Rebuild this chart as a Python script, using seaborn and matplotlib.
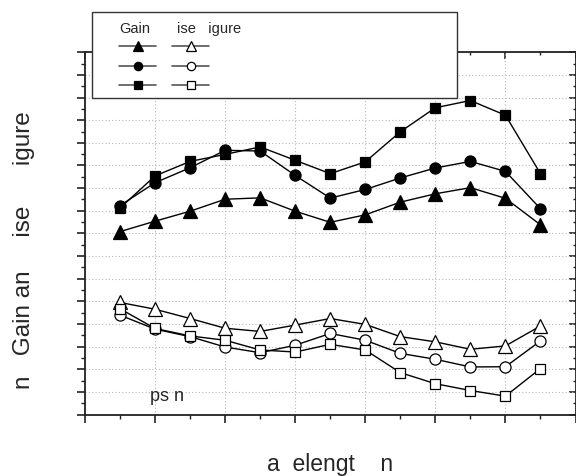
import matplotlib
matplotlib.use("Agg")
import matplotlib.pyplot as plt
from matplotlib.patches import Rectangle
from matplotlib.lines import Line2D
from matplotlib.ticker import MultipleLocator, NullFormatter
import pandas as pd
import seaborn as sns

# ---- data ----
positions = list(range(1, 14))
gain_triangle = [8.08, 8.54, 8.98, 9.51, 9.57, 8.98, 8.49, 8.82, 9.38, 9.75, 10.02, 9.55, 8.38]
gain_circle = [9.23, 10.24, 10.90, 11.67, 11.64, 10.56, 9.56, 9.94, 10.45, 10.89, 11.18, 10.74, 9.09]
gain_square = [9.12, 10.54, 11.18, 11.49, 11.82, 11.23, 10.64, 11.16, 12.49, 13.55, 13.87, 13.22, 10.64]
nf_triangle = [4.95, 4.65, 4.24, 3.81, 3.67, 3.95, 4.24, 3.98, 3.44, 3.21, 2.88, 3.03, 3.91]
nf_circle = [4.39, 3.77, 3.44, 2.98, 2.73, 3.06, 3.58, 3.28, 2.70, 2.44, 2.10, 2.11, 3.25]
nf_square = [4.67, 3.80, 3.47, 3.28, 2.85, 2.76, 3.10, 2.85, 1.85, 1.36, 1.06, 0.81, 2.03]

x_label = "a  elengt    n"
y_label = "n   Gain an     ise      igure"
legend_gain = "Gain"
legend_nf = "ise   igure"
note_text = "ps n"

sns.set_style("white")
plt.rcParams["font.family"] = ["Liberation Sans", "DejaVu Sans"]

W, H = 576, 477
fig = plt.figure(figsize=(W / 100, H / 100), dpi=100)
ax = fig.add_axes([85 / W, 1 - 415.5 / H, (575.5 - 85) / W, (415.5 - 53.3) / H])

marker_size = {"^": 9.5, "o": 8.0, "s": 7.2}
series = [
    (gain_triangle, "^", "black"),
    (gain_circle, "o", "black"),
    (gain_square, "s", "black"),
    (nf_triangle, "^", "white"),
    (nf_circle, "o", "white"),
    (nf_square, "s", "white"),
]
for vals, mk, fc in series:
    df = pd.DataFrame({"x": positions, "y": vals})
    sns.lineplot(data=df, x="x", y="y", ax=ax, color="black", linewidth=1.0,
                 marker=mk, markersize=marker_size[mk], markerfacecolor=fc,
                 markeredgecolor="black", markeredgewidth=0.9, zorder=3)

ax.set_xlim(0, 14)
ax.set_ylim(0, 16)
ax.xaxis.set_major_locator(MultipleLocator(2))
ax.xaxis.set_minor_locator(MultipleLocator(1))
ax.yaxis.set_major_locator(MultipleLocator(1))
ax.yaxis.set_minor_locator(MultipleLocator(0.5))
ax.xaxis.set_major_formatter(NullFormatter())
ax.yaxis.set_major_formatter(NullFormatter())
ax.grid(True, which="major", linestyle=(0, (1, 2)), color="#b8b8b8", linewidth=0.8, zorder=0)
ax.set_axisbelow(True)

spine_c = "#222222"
for s in ax.spines.values():
    s.set_color(spine_c)
    s.set_linewidth(1.3)
ax.tick_params(which="major", direction="out", length=6, width=1.2, color=spine_c,
               left=True, bottom=True, top=False, right=False)
ax.tick_params(which="minor", direction="out", length=3, width=1.0, color=spine_c,
               left=True, bottom=True, top=False, right=False)

secx = ax.secondary_xaxis("top")
secx.xaxis.set_major_locator(MultipleLocator(2))
secx.xaxis.set_minor_locator(MultipleLocator(1))
secx.xaxis.set_major_formatter(NullFormatter())
secx.tick_params(which="major", direction="in", length=5, width=1.2, color=spine_c)
secx.tick_params(which="minor", direction="in", length=2.5, width=1.0, color=spine_c)
secx.spines["top"].set_visible(False)

secy = ax.secondary_yaxis("right")
secy.yaxis.set_major_locator(MultipleLocator(1))
secy.yaxis.set_minor_locator(MultipleLocator(0.5))
secy.yaxis.set_major_formatter(NullFormatter())
secy.tick_params(which="major", direction="in", length=5, width=1.2, color=spine_c)
secy.tick_params(which="minor", direction="in", length=2.5, width=1.0, color=spine_c)
secy.spines["right"].set_visible(False)

ax.set_xlabel(x_label, fontsize=16.5, va="center")
ax.xaxis.set_label_coords(0.5, (415.5 - 465) / 362.2)
ax.set_ylabel(y_label, fontsize=17.5, va="center")
ax.yaxis.set_label_coords((24 - 85) / 490.5, (415.5 - 250) / 362.2)

ax.text(1.85, 0.66, note_text, fontsize=13, va="baseline", ha="left")

# legend box
fig.add_artist(Rectangle((92 / W, 1 - 99 / H), (457 - 92) / W, (99 - 13) / H,
                         transform=fig.transFigure, facecolor="white",
                         edgecolor="#333333", linewidth=1.0, zorder=4))
fig.text(119 / W, 1 - 33 / H, legend_gain, fontsize=10.5, va="baseline", zorder=6)
fig.text(177 / W, 1 - 33 / H, legend_nf, fontsize=10.5, va="baseline", zorder=6)

handles = []
for vals, mk, fc in series:
    handles.append(Line2D([], [], color="#555555", linewidth=1.2, marker=mk,
                          markersize=6.5 if mk == "^" else 6, markerfacecolor=fc,
                          markeredgecolor="black", markeredgewidth=0.9))
leg = fig.legend(handles=handles, labels=[""] * 6, ncol=2, loc="upper left",
                 bbox_to_anchor=(119 / W, 1 - 41 / H), frameon=False, fontsize=10,
                 handlelength=2.67, handletextpad=0, columnspacing=1.15,
                 labelspacing=0.39, borderpad=0, borderaxespad=0)
leg.set_zorder(7)

fig.savefig("out.png", dpi=100)
